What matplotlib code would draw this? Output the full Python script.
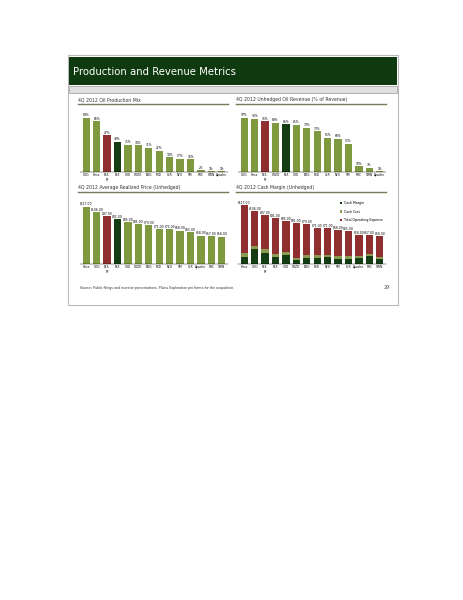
import matplotlib
matplotlib.use("Agg")
import matplotlib.pyplot as plt
from matplotlib.patches import Rectangle

G, R, D = "#7f9a3e", "#8f2f2f", "#143d14"
oil_cats = ["COG","Hess","PLX-\nPF","PLX","CXO","CRZO","EOG","PXD","CLR","NFX","SM","RRC","SWN","Apache"]
oil_mix = [69,65,47,39,35,34,31,27,19,17,16,2,1,1]
rev_cats = ["COG","Hess","PLX-\nPF","CRZO","PLX","CXO","EOG","PXD","CLR","NFX","SM","RRC","SWN","Apache"]
rev_pct = [97,96,91,88,86,85,79,73,61,60,51,10,7,1]
price_cats = ["Hess","COG","PLX-\nPF","PLX","CXO","CRZO","EOG","PXD","NFX","SM","CLR","Apache","RRC","SWN"]
price = [117,106,97,91,85,81,79,71,71,68,65,58,57,56]
margin_cats = ["Hess","COG","PLX-\nPF","PLX","CXO","CRZO","EOG","PXD","NFX","SM","CLR","Apache","RRC","SWN"]
margin_bottom = [14,30,21,13,18,7,12,11,13,10,10,12,16,9]
margin_mid = [8,6,9,7,6,5,6,6,5,5,5,4,3,4]
margin_top = [95,70,67,71,61,69,61,54,53,53,50,42,38,43]
bar_colors = [[G,G,R,D]+[G]*10, [G,G,R,G,D]+[G]*9, [G,G,R,D]+[G]*10]

fig = plt.figure(figsize=(4.64,6), dpi=100)
W, H = 464, 600
def box(x,y,w,h):
    return [x/W, 1-(y+h)/H, w/W, h/H]
bg = fig.add_axes([0,0,1,1]); bg.set_xlim(0,W); bg.set_ylim(H,0); bg.axis("off")
bg.add_patch(Rectangle((68,55),330,250,fc="white",ec="#bbbbbb",lw=0.8))
bg.add_patch(Rectangle((69,57),328,28,fc="#0f3a0f"))
bg.add_patch(Rectangle((69,86),328,7,fc="#e0e0e0",ec="#999999",lw=0.5))
bg.text(73,72,"Production and Revenue Metrics",color="white",fontsize=7.3,va="center")
bg.text(80,289,"Source: Public filings and investor presentations. Plains Exploration pro forma for the acquisition.",fontsize=2.3,color="#333")
bg.text(390,289,"29",fontsize=3.5,color="#555",ha="right")
titles = [("4Q 2012 Oil Production Mix",78,102),("4Q 2012 Unhedged Oil Revenue (% of Revenue)",236,102),
          ("4Q 2012 Average Realized Price (Unhedged)",78,190),("4Q 2012 Cash Margin (Unhedged)",236,190)]
for t,x,y in titles:
    bg.text(x,y,t,fontsize=3.3,color="#333",va="bottom")
    bg.plot([x,x+150],[y+1.5,y+1.5],color="#7a7a5a",lw=1)

def simple(rect, cats, vals, cols, fmt):
    ax = fig.add_axes(box(*rect))
    ax.bar(range(len(vals)), vals, color=cols, width=0.7)
    for i,v in enumerate(vals):
        ax.text(i, v+max(vals)*0.03, fmt(v), ha="center", fontsize=2.2)
    ax.set_xticks(range(len(cats))); ax.set_xticklabels(cats, fontsize=2.2)
    ax.set_ylim(0, max(vals)*1.15); ax.set_yticks([])
    for s in ["top","right","left"]: ax.spines[s].set_visible(False)
    ax.spines["bottom"].set_linewidth(0.3); ax.tick_params(length=0, pad=1)
    ax.set_xlim(-0.6, len(vals)-0.4)
    return ax
simple((80,110,148,62), oil_cats, oil_mix, bar_colors[0], lambda v: f"{v}%")
simple((238,110,148,62), rev_cats, rev_pct, bar_colors[1], lambda v: f"{v}%")
simple((80,198,148,66), price_cats, price, bar_colors[2], lambda v: f"${v:.2f}")

ax = fig.add_axes(box(238,198,148,66))
x = range(len(margin_cats))
tot = [a+b+c for a,b,c in zip(margin_bottom,margin_mid,margin_top)]
ax.bar(x, margin_bottom, color=D, width=0.7, label="Cash Margin")
ax.bar(x, margin_mid, bottom=margin_bottom, color="#8a9a50", width=0.7, label="Cash Cost")
ax.bar(x, margin_top, bottom=[a+b for a,b in zip(margin_bottom,margin_mid)], color="#8f2f2f", width=0.7, label="Total Operating Expense")
for i,t in enumerate(tot):
    ax.text(i, t+3, f"${t:.2f}", ha="center", fontsize=2.2)
ax.set_xticks(list(x)); ax.set_xticklabels(margin_cats, fontsize=2.2)
ax.set_ylim(0, max(tot)*1.12); ax.set_yticks([])
for s in ["top","right","left"]: ax.spines[s].set_visible(False)
ax.spines["bottom"].set_linewidth(0.3); ax.tick_params(length=0, pad=1)
ax.set_xlim(-0.6, len(tot)-0.4)
ax.legend(fontsize=2.3, frameon=False, loc="upper right", handlelength=0.6, labelspacing=1.5)
fig.savefig("out.png", dpi=100)
